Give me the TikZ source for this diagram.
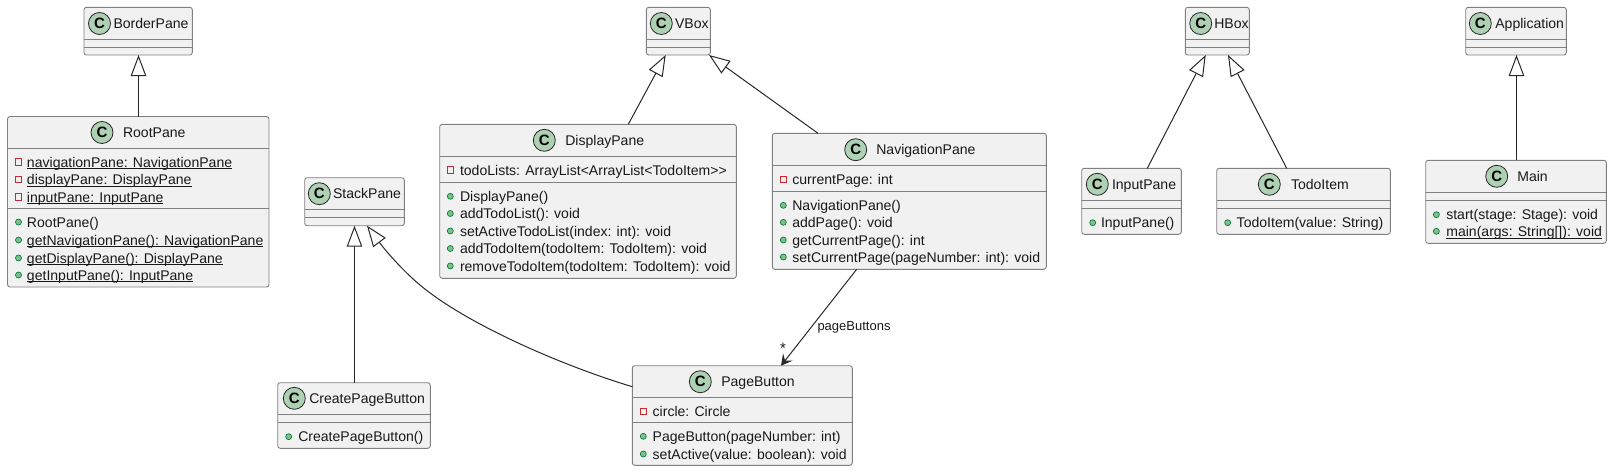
\documentclass[tikz,border=0pt]{standalone}
\usepackage{fontspec}
\setmainfont{Liberation Sans}
\usetikzlibrary{arrows.meta,calc}
\definecolor{boxfill}{HTML}{F1F1F1}
\definecolor{boxline}{HTML}{808080}
\definecolor{edgeline}{HTML}{282828}
\definecolor{spotfill}{HTML}{ADD1B2}
\definecolor{pubfill}{HTML}{84BE84}
\definecolor{publine}{HTML}{038048}
\definecolor{privline}{HTML}{C82930}
\newcommand{\ulm}[1]{\underline{\smash{#1}}}
\tikzset{
  x=1pt,y=-1pt,
  classbox/.style={draw=boxline,fill=boxfill,line width=0.9pt,rounded corners=2.5pt,inner sep=0pt,outer sep=0pt},
  sepline/.style={draw=boxline,line width=0.9pt},
  spot/.style={circle,draw=edgeline,fill=spotfill,line width=0.8pt,minimum size=22pt,inner sep=0pt,font=\fontsize{15}{15}\bfseries\selectfont},
  labeltext/.style={anchor=base west,inner sep=0pt,outer sep=0pt,text=black!90,font=\fontsize{14.05}{14}\selectfont},
  pubicon/.style={circle,draw=publine,fill=pubfill,line width=0.7pt,minimum size=6pt,inner sep=0pt},
  privicon/.style={rectangle,draw=privline,line width=0.8pt,minimum size=6.6pt,inner sep=0pt},
  inherit/.style={draw=edgeline,line width=1pt,-{Triangle[open,length=21pt,width=15.5pt,fill=white]}},
  assoc/.style={draw=edgeline,line width=1pt,-{Stealth[length=11pt,width=12pt,inset=4.5pt]}},
  edgetext/.style={anchor=base west,inner sep=0pt,text=black!90,font=\fontsize{13}{13}\selectfont},
  startext/.style={anchor=base west,inner sep=0pt,text=black!90,font=\fontsize{15}{15}\selectfont},
}
% id x0 y0 x1 y1 sep1 sep2
\newcommand{\classrect}[7]{%
  \node[classbox,minimum width={(#4-#2)*1pt},minimum height={(#5-#3)*1pt}] (#1) at ({(#2+#4)/2},{(#3+#5)/2}) {};
  \draw[sepline] (#2,#6) -- (#4,#6);
  \draw[sepline] (#2,#7) -- (#4,#7);
}
% id cx cy tx title
\newcommand{\classhead}[5]{%
  \node[spot] (#1-spot) at (#2,#3) {C};
  \node[labeltext] (#1-title) at (#4,#3+5) {#5};
}
% id icon-style ix tx y text
\newcommand{\member}[6]{%
  \node[#2] (#1-icon) at (#3,#5) {};
  \node[labeltext] (#1) at (#4,#5+5) {#6};
}
\begin{document}
\begin{tikzpicture}
\useasboundingbox (0,0) rectangle (1612,471);
% BorderPane
\classrect{border}{84}{7.3}{192.3}{55}{39.3}{47.3}
\classhead{border}{99.5}{23.5}{113.5}{BorderPane}
% RootPane
\classrect{root}{7.5}{116.5}{269}{287}{148.5}{208.5}
\classhead{root}{102}{132.5}{123}{RootPane}
\member{r1}{privicon}{18.5}{27}{162}{\ulm{navigationPane: NavigationPane}}
\member{r2}{privicon}{18.5}{27}{179.5}{\ulm{displayPane: DisplayPane}}
\member{r3}{privicon}{18.5}{27}{197}{\ulm{inputPane: InputPane}}
\member{r4}{pubicon}{18.5}{27}{222}{RootPane()}
\member{r5}{pubicon}{18.5}{27}{240}{\ulm{getNavigationPane(): NavigationPane}}
\member{r6}{pubicon}{18.5}{27}{258}{\ulm{getDisplayPane(): DisplayPane}}
\member{r7}{pubicon}{18.5}{27}{275}{\ulm{getInputPane(): InputPane}}
% StackPane
\classrect{stack}{304.7}{177.7}{404.3}{225.7}{209.7}{217.7}
\classhead{stack}{319.3}{193.7}{333}{StackPane}
% CreatePageButton
\classrect{cpb}{277.7}{382.7}{430.3}{448.3}{414.7}{422.7}
\classhead{cpb}{294.3}{398.3}{309.3}{CreatePageButton}
\member{c1}{pubicon}{288.7}{298.3}{436.7}{CreatePageButton()}
% DisplayPane
\classrect{display}{439.7}{124.3}{736.3}{278.3}{156.3}{182.3}
\classhead{display}{544.3}{140.3}{565.3}{DisplayPane}
\member{d1}{privicon}{450.3}{460}{170}{todoLists: ArrayList<ArrayList<TodoItem>{}>}
\member{d2}{pubicon}{450.3}{460}{196.3}{DisplayPane()}
\member{d3}{pubicon}{450.3}{460}{213.5}{addTodoList(): void}
\member{d4}{pubicon}{450.3}{460}{231}{setActiveTodoList(index: int): void}
\member{d5}{pubicon}{450.3}{460}{248.5}{addTodoItem(todoItem: TodoItem): void}
\member{d6}{pubicon}{450.3}{460}{266}{removeTodoItem(todoItem: TodoItem): void}
% VBox
\classrect{vbox}{646.3}{7.3}{710.3}{55}{39.3}{47.3}
\classhead{vbox}{661.3}{23.5}{675}{VBox}
% NavigationPane
\classrect{nav}{772.3}{133.3}{1046.3}{269.3}{165.3}{191.3}
\classhead{nav}{855.7}{149.7}{876.3}{NavigationPane}
\member{n1}{privicon}{783.3}{792.3}{179.3}{currentPage: int}
\member{n2}{pubicon}{783.3}{792.3}{205.3}{NavigationPane()}
\member{n3}{pubicon}{783.3}{792.3}{222.3}{addPage(): void}
\member{n4}{pubicon}{783.3}{792.3}{240}{getCurrentPage(): int}
\member{n5}{pubicon}{783.3}{792.3}{257}{setCurrentPage(pageNumber: int): void}
% PageButton
\classrect{pb}{632.3}{365.7}{852.3}{465.3}{397.3}{422.7}
\classhead{pb}{700.3}{381.7}{721.3}{PageButton}
\member{p1}{privicon}{643.3}{652.7}{411.3}{circle: Circle}
\member{p2}{pubicon}{643.3}{652.7}{436.3}{PageButton(pageNumber: int)}
\member{p3}{pubicon}{643.3}{652.7}{454}{setActive(value: boolean): void}
% HBox
\classrect{hbox}{1185.3}{7.3}{1249.3}{55}{39.3}{47.3}
\classhead{hbox}{1200.7}{23.5}{1214.3}{HBox}
% InputPane
\classrect{input}{1081.7}{168.3}{1181.3}{234.3}{200.3}{208.3}
\classhead{input}{1097.3}{184.3}{1112}{InputPane}
\member{i1}{pubicon}{1092.7}{1101}{222.7}{InputPane()}
% TodoItem
\classrect{todo}{1216.7}{168.3}{1390.3}{234.3}{200.3}{208.3}
\classhead{todo}{1269.3}{184.3}{1291}{TodoItem}
\member{t1}{pubicon}{1227.7}{1236.7}{222.7}{TodoItem(value: String)}
% Application
\classrect{app}{1465.7}{7.3}{1566.3}{55}{39.3}{47.3}
\classhead{app}{1480.3}{23.5}{1495.3}{Application}
% Main
\classrect{main}{1425.7}{160.3}{1606.3}{243.3}{192.3}{200.3}
\classhead{main}{1496.7}{176.3}{1517.3}{Main}
\member{m1}{pubicon}{1436.3}{1446.3}{214.7}{start(stage: Stage): void}
\member{m2}{pubicon}{1436.3}{1446.3}{231.3}{\ulm{main(args: String[]): void}}
% connectors
\draw[inherit] ([xshift=0.25pt]root.north) -- ([xshift=0.35pt]border.south);
\draw[inherit] ([xshift=40.3pt]display.north) -- ([xshift=-12.6pt]vbox.south);
\draw[inherit] ([xshift=-91.3pt]nav.north) -- ([xshift=30.7pt]vbox.south);
\draw[inherit] ([xshift=15.8pt]input.north) -- ([xshift=-11.6pt]hbox.south);
\draw[inherit] ([xshift=-16.8pt]todo.north) -- ([xshift=10.7pt]hbox.south);
\draw[inherit] ([xshift=0.5pt]main.north) -- ([xshift=0.5pt]app.south);
\draw[inherit] ([xshift=0.5pt]cpb.north) -- (stack.south);
\draw[inherit] ([yshift=28.8pt]pb.west) .. controls (560,365) and (465,323) .. (420,285) .. controls (402,270) and (385,250) .. ([xshift=12.5pt]stack.south);
\draw[assoc] ([xshift=-52.6pt]nav.south) -- ([xshift=38.7pt]pb.north);
\node[edgetext] (lblpage) at (817.3,330.5) {pageButtons};
\node[startext] (lblstar) at (780,353) {*};
\end{tikzpicture}
\end{document}
